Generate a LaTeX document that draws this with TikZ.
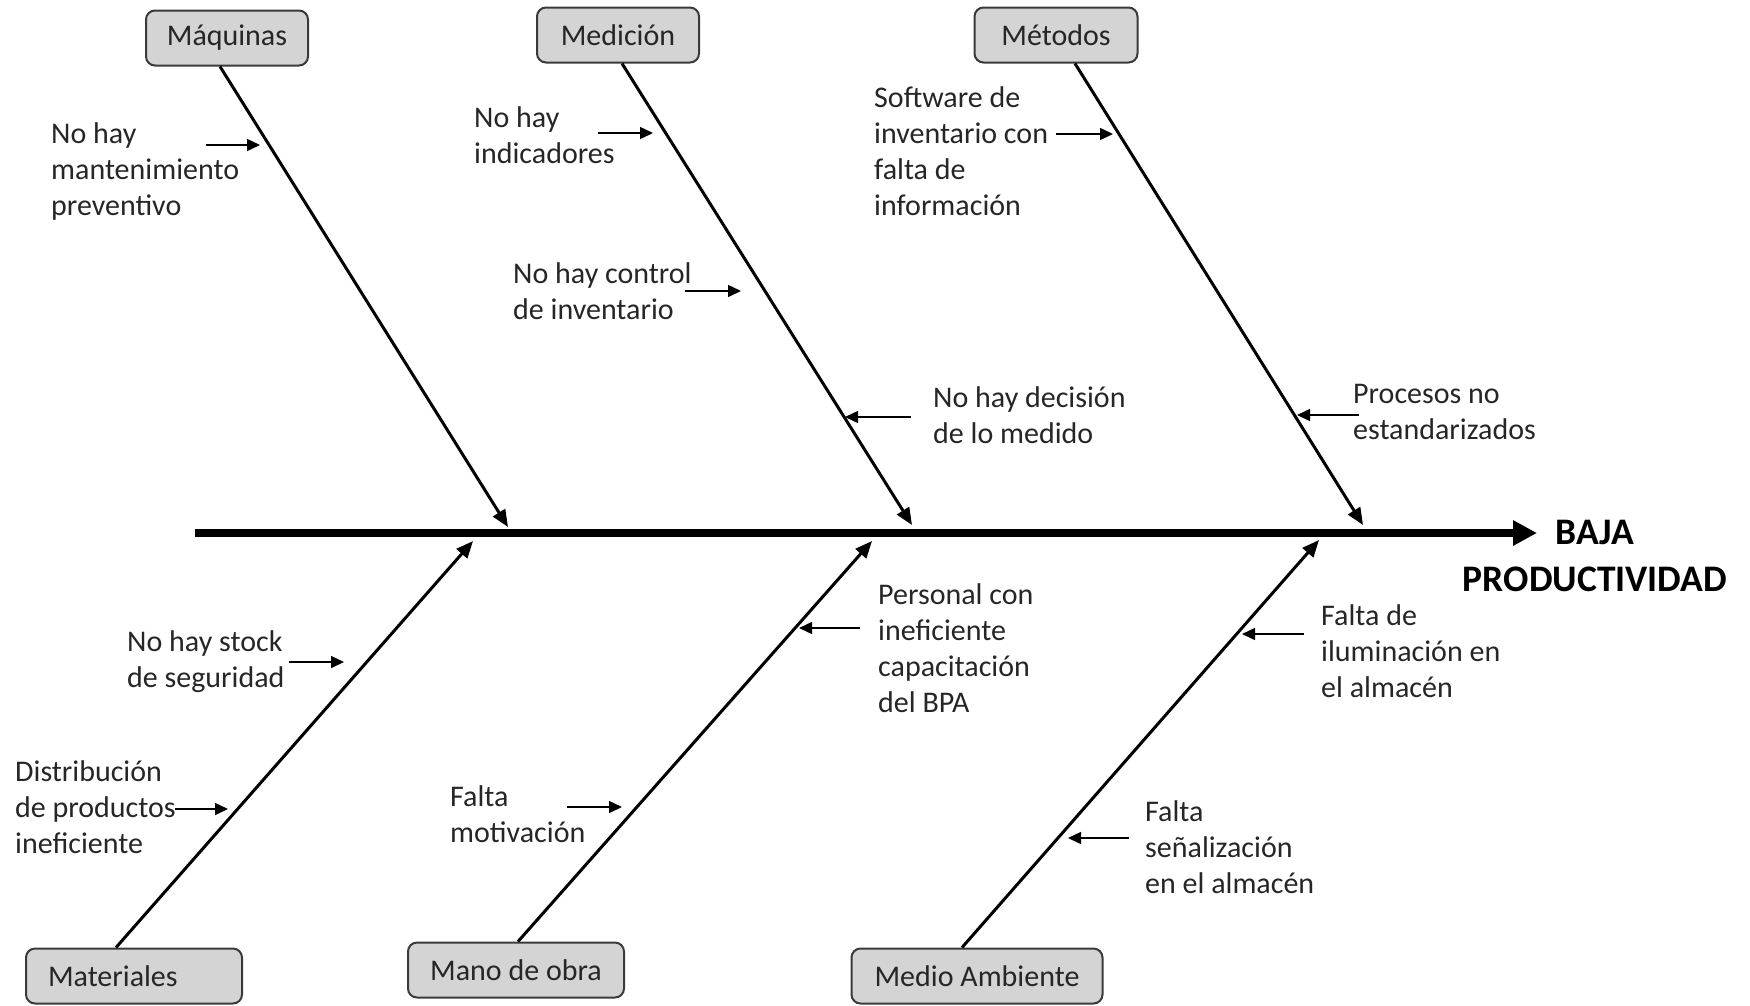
\documentclass[tikz,border=0pt]{standalone}
\usepackage{fontspec}
\setmainfont{Carlito}
\usetikzlibrary{arrows.meta}

\definecolor{boxgray}{HTML}{D4D4D4}
\definecolor{boxline}{HTML}{3A3A3A}
\definecolor{ink}{HTML}{262626}

\begin{document}
\begin{tikzpicture}[x=1pt, y=-1pt,
  cat/.style={draw=boxline, line width=2pt, fill=boxgray, rounded corners=9pt,
    minimum height=55pt, inner xsep=20pt, text=ink, font=\fontsize{30}{36}\selectfont},
  cause/.style={anchor=west, align=left, inner sep=0pt, text=ink,
    font=\fontsize{30}{36}\selectfont},
  bone/.style={line width=3pt, -{Triangle[length=17pt,width=14pt]}},
  hint/.style={line width=1.5pt, -{Triangle[length=13pt,width=12pt]}},
  spine/.style={line width=7.5pt, -{Triangle[length=24pt,width=24pt]}}]
\useasboundingbox (0,0) rectangle (1750,1005);

% categories
\node[cat, minimum width=162pt] (maq) at (227,38) {Máquinas};
\node[cat, minimum width=162pt] (med) at (618,35) {Medición};
\node[cat, minimum width=163pt] (met) at (1056,35) {Métodos};
\node[cat, minimum width=216pt, text width=172pt, align=left] (mat) at (134,976) {Materiales};
\node[cat, minimum width=216pt] (mob) at (516,970) {Mano de obra};
\node[cat, minimum width=251pt] (amb) at (977,976) {Medio Ambiente};

% effect
\node[font=\bfseries\fontsize{37.5}{47}\selectfont, align=center] (efecto) at (1595,556) {BAJA\\PRODUCTIVIDAD};

% spine and bones
\coordinate (cola) at (195,533);
\coordinate (punta) at (1537,533);
\draw[spine] (cola) -- (punta);

\coordinate (tmaq) at (508,527);
\coordinate (tmed) at (912,525);
\coordinate (tmet) at (1363,525);
\coordinate (tmat) at (473,541);
\coordinate (tmob) at (872,541);
\coordinate (tamb) at (1319,540);

\draw[bone] ([xshift=-7pt]maq.south) -- (tmaq);
\draw[bone] ([xshift=4pt]med.south) -- (tmed);
\draw[bone] ([xshift=19pt]met.south) -- (tmet);
\draw[bone] ([xshift=-18pt]mat.north) -- (tmat);
\draw[bone] ([xshift=2pt]mob.north) -- (tmob);
\draw[bone] ([xshift=-15pt]amb.north) -- (tamb);

% causes
\node[cause] (c1) at (51,171) {No hay\\mantenimiento\\preventivo};
\node[cause] (c2) at (474,135) {No hay\\indicadores};
\node[cause] (c3) at (513,291) {No hay control\\de inventario};
\node[cause] (c4) at (933,415) {No hay decisión\\de lo medido};
\node[cause] (c5) at (874,151) {Software de\\inventario con\\falta de\\información};
\node[cause] (c6) at (1353,412) {Procesos no\\estandarizados};
\node[cause] (c7) at (127,662) {No hay stock\\de seguridad};
\node[cause] (c8) at (15,807) {Distribución\\de productos\\ineficiente};
\node[cause] (c9) at (450,814) {Falta\\motivación};
\node[cause] (c10) at (878,648) {Personal con\\ineficiente\\capacitación\\del BPA};
\node[cause] (c11) at (1321,651) {Falta de\\iluminación en\\el almacén};
\node[cause] (c12) at (1145,847) {Falta\\señalización\\en el almacén};

% small arrows pointing at the bones
\foreach \n/\xs/\xe/\y in {1/206/260/145, 2/598/653/133, 3/685/741/291,
    4/911/845/417, 5/1056/1113/134, 6/1359/1297/415, 7/289/344/662,
    8/175/228/809, 9/567/622/807, 10/860/799/628, 11/1304/1242/634,
    12/1129/1068/838}{
  \coordinate (s\n) at (\xs,\y);
  \coordinate (e\n) at (\xe,\y);
  \draw[hint] (s\n) -- (e\n);
}
\end{tikzpicture}
\end{document}
